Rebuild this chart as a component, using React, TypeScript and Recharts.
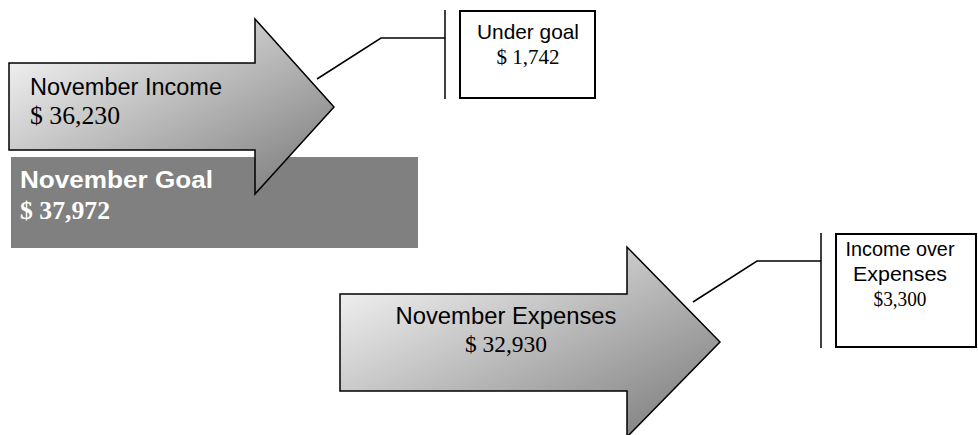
import React from 'react';
import { BarChart, Bar, XAxis, YAxis } from 'recharts';

// values
const categories = ['November Goal', 'November Income', 'November Expenses'];
const values = [37972, 36230, 32930];
const calloutLines = [[], ['Under goal'], ['Income over', 'Expenses']];
const calloutValues = [0, 1742, 3300];
const calloutPrefix = ['', '$ ', '$'];

const rows = categories.map((name, i) => ({
  name,
  value: values[i],
  callout: calloutLines[i],
  calloutValue: calloutValues[i],
  prefix: calloutPrefix[i],
}));

const SANS = '"Liberation Sans", Arial, sans-serif';
const SERIF = '"Liberation Serif", "Times New Roman", serif';

// where each piece of the infographic sits (not to scale in the original)
const LAYOUT: Record<string, any> = {
  'November Goal': {
    box: { x: 11, y: 157, w: 407, h: 91 },
    label: { x: 20, y: 188, len: 193, size: 23, sx: 1.05 },
    amount: { x: 20, y: 219, len: 90, size: 25, sx: 1 },
  },
  'November Income': {
    arrow: { x0: 9, st: 63, sb: 150, hx: 255, ht: 19, hb: 194, tx: 334, ty: 107 },
    label: { x: 30, y: 95, len: 192, size: 23.5, sx: 1, anchor: 'start' },
    amount: { x: 30, y: 124, len: 90, size: 25, sx: 1, anchor: 'start' },
    leader: [[317, 79], [381, 38], [445, 38]],
    bar: { x: 445, y1: 10, y2: 99 },
    note: {
      x: 460, y: 11, w: 135, h: 87, cx: 528,
      lines: [{ y: 39, len: 102, sx: 1 }],
      value: { y: 64, len: 63, sx: 1 },
      size: 21,
    },
  },
  'November Expenses': {
    arrow: { x0: 340, st: 294, sb: 391, hx: 627, ht: 247, hb: 437, tx: 720, ty: 342 },
    label: { x: 506, y: 324, len: 221, size: 24, sx: 1, anchor: 'middle' },
    amount: { x: 506, y: 352, len: 82, size: 24, sx: 1, anchor: 'middle' },
    leader: [[693, 302], [757, 261], [821, 261]],
    bar: { x: 821, y1: 233, y2: 348 },
    note: {
      x: 836, y: 234, w: 140, h: 113, cx: 900,
      lines: [{ y: 256, len: 109, sx: 1 }, { y: 281, len: 94, sx: 1 }],
      value: { y: 306, len: 53, sx: 1 },
      size: 20,
    },
  },
};

const money = (v: number) => '$ ' + v.toLocaleString('en-US');

// text fitted to the width measured on the original
function Fitted({ x, y, len, sx, size, family, weight, fill, anchor, children }: any) {
  return (
    <text
      transform={`translate(${x},${y}) scale(${sx},1)`}
      x={0}
      y={0}
      fontFamily={family}
      fontWeight={weight || 'normal'}
      fontSize={size}
      fill={fill}
      textAnchor={anchor || 'start'}
      textLength={len / sx}
      lengthAdjust="spacingAndGlyphs"
    >
      {children}
    </text>
  );
}

function Piece(props: any) {
  const { payload, index } = props;
  const L = LAYOUT[payload.name];
  const id = `grad-${index}`;

  if (L.box) {
    return (
      <g>
        <rect x={L.box.x} y={L.box.y} width={L.box.w} height={L.box.h} fill="#808080" />
        <Fitted {...L.label} family={SANS} weight="bold" fill="#fff">{payload.name}</Fitted>
        <Fitted {...L.amount} family={SERIF} weight="bold" fill="#fff">{money(payload.value)}</Fitted>
      </g>
    );
  }

  const a = L.arrow;
  const d = `M${a.x0},${a.st} L${a.hx},${a.st} L${a.hx},${a.ht} L${a.tx},${a.ty} L${a.hx},${a.hb} L${a.hx},${a.sb} L${a.x0},${a.sb} Z`;
  const n = L.note;
  return (
    <g>
      <defs>
        <linearGradient id={id} x1="0" y1="0" x2="1" y2="1">
          <stop offset="0" stopColor="#ffffff" />
          <stop offset="1" stopColor="#777777" />
        </linearGradient>
      </defs>
      <path d={d} fill={`url(#${id})`} stroke="#000" strokeWidth={1.5} />
      <Fitted {...L.label} family={SANS} fill="#000">{payload.name}</Fitted>
      <Fitted {...L.amount} family={SERIF} fill="#000">{money(payload.value)}</Fitted>

      <polyline points={L.leader.map((p: number[]) => p.join(',')).join(' ')} fill="none" stroke="#000" strokeWidth={1.5} />
      <line x1={L.bar.x} x2={L.bar.x} y1={L.bar.y1} y2={L.bar.y2} stroke="#000" strokeWidth={1.5} />
      <rect x={n.x} y={n.y} width={n.w} height={n.h} fill="#fff" stroke="#000" strokeWidth={2} />
      {payload.callout.map((line: string, i: number) => (
        <Fitted key={line} x={n.cx} y={n.lines[i].y} len={n.lines[i].len} sx={n.lines[i].sx} size={n.size}
          family={SANS} fill="#000" anchor="middle">{line}</Fitted>
      ))}
      <Fitted x={n.cx} y={n.value.y} len={n.value.len} sx={n.value.sx} size={n.size}
        family={SERIF} fill="#000" anchor="middle">
        {payload.prefix + payload.calloutValue.toLocaleString('en-US')}
      </Fitted>
    </g>
  );
}

export default function App() {
  return (
    <div style={{ position: 'fixed', left: 0, top: 0, background: '#fff' }}>
      <BarChart width={978} height={435} data={rows} layout="vertical" margin={{ top: 0, right: 0, bottom: 0, left: 0 }}>
        <XAxis type="number" hide domain={[0, 40000]} />
        <YAxis type="category" dataKey="name" hide />
        <Bar dataKey="value" isAnimationActive={false} shape={(p: any) => <Piece {...p} />} />
      </BarChart>
    </div>
  );
}
